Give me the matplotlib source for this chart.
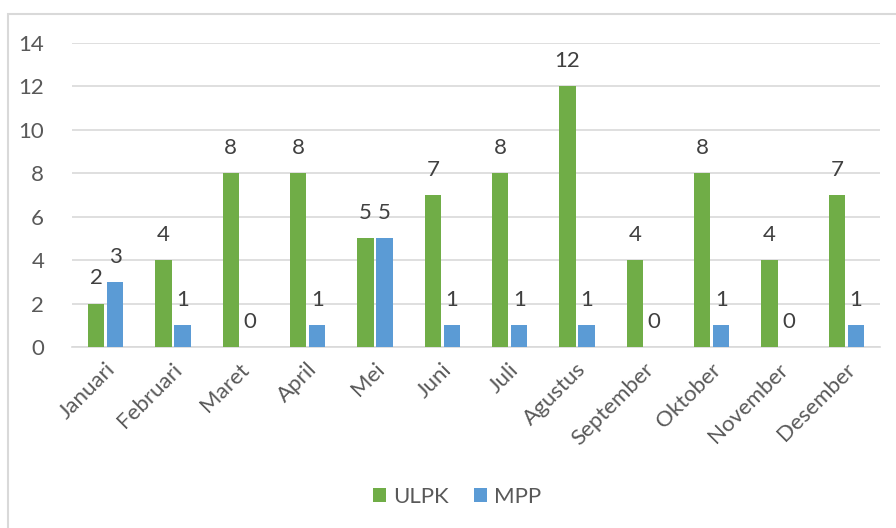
import matplotlib.pyplot as plt
from matplotlib.patches import Rectangle
from matplotlib.transforms import ScaledTranslation
import numpy as np

months = ["Januari", "Februari", "Maret", "April", "Mei", "Juni", "Juli",
          "Agustus", "September", "Oktober", "November", "Desember"]
ulpk = [2, 4, 8, 8, 5, 7, 8, 12, 4, 8, 4, 7]
mpp = [3, 1, 0, 1, 5, 1, 1, 1, 0, 1, 0, 1]

green = "#70AD47"
blue = "#5B9BD5"
txt = "#595959"

plt.rcParams['font.family'] = ['Lato', 'DejaVu Sans']

fig = plt.figure(figsize=(8.96, 5.28), dpi=100)
ax = fig.add_axes([72/896, 1-347/528, (880-72)/896, (347-43)/528])

# chart border like an Excel chart area
fig.patches.append(Rectangle((8/896, -0.2), 2, 1.2-14/528, transform=fig.transFigure,
                             fill=False, edgecolor="#d9d9d9", linewidth=1.5))

x = np.arange(len(months))
w = 0.24
off = 0.142
b1 = ax.bar(x - off, ulpk, w, color=green, label="ULPK", zorder=3)
b2 = ax.bar(x + off, mpp, w, color=blue, label="MPP", zorder=3)

for bars, vals in ((b1, ulpk), (b2, mpp)):
    for r, v in zip(bars, vals):
        ax.annotate(str(v), (r.get_x() + r.get_width()/2, v), xytext=(0, 11),
                    textcoords="offset points", ha="center", va="bottom",
                    fontsize=16, color="#404040")

ax.set_xlim(-0.5, 11.5)
ax.set_ylim(0, 14)
ax.set_yticks(range(0, 15, 2))
ax.yaxis.grid(True, color="#d9d9d9", linewidth=1.2, zorder=0)
ax.set_axisbelow(True)
for s in ["top", "right", "left"]:
    ax.spines[s].set_visible(False)
ax.spines["bottom"].set_color("#d9d9d9")
ax.spines["bottom"].set_linewidth(1.2)
ax.tick_params(length=0, colors=txt, labelsize=16)
ax.tick_params(axis="y", pad=20)
ax.set_xticks(x)
ax.set_xticklabels(months, rotation=45, ha="right", va="center", rotation_mode="anchor")
ax.tick_params(axis="x", pad=14)
shift = ScaledTranslation(6/100, 0, fig.dpi_scale_trans)
for lab in ax.get_xticklabels():
    lab.set_transform(lab.get_transform() + shift)

fig.legend(handles=[b1, b2], loc="center", bbox_to_anchor=(0.51, 1-497/528), ncol=2,
           frameon=False, fontsize=16, labelcolor=txt, handlelength=0.6,
           handleheight=0.6, handletextpad=0.3, columnspacing=1.15)

fig.savefig("out.png", dpi=100)
